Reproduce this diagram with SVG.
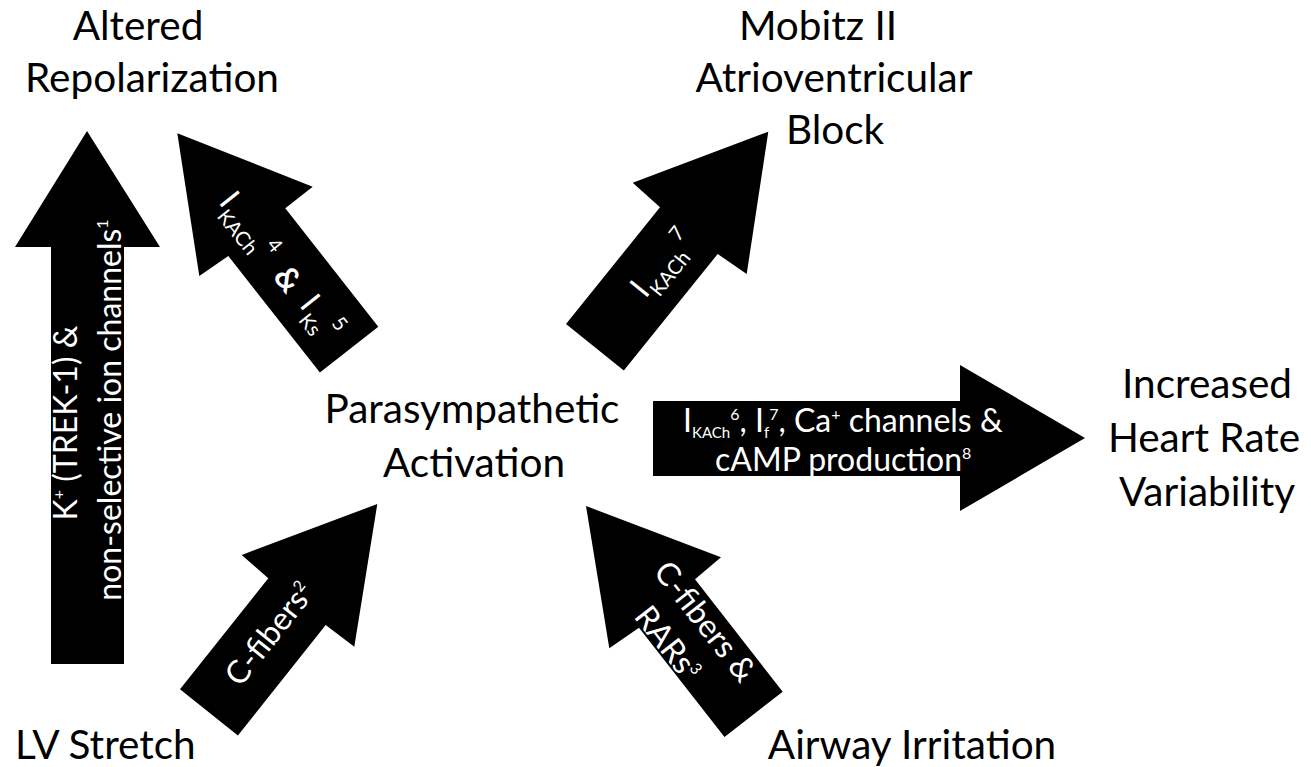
<svg xmlns="http://www.w3.org/2000/svg" width="1311" height="767" viewBox="0 0 1311 767">
<style>
.node{font-family:Lato,"Open Sans","Liberation Sans",sans-serif;font-size:40.5px;fill:#000;text-anchor:middle}
.node.start{text-anchor:start}
.arr{fill:#000;stroke:none}
.lab{font-family:Lato,"Open Sans","Liberation Sans",sans-serif;font-size:32px;fill:#fff}
.sub{font-size:20px}
.sm{font-size:16px}
.mid{text-anchor:middle}
</style>
<rect width="1311" height="767" fill="#fff"/>
<g id="connectors">
  <g id="arrow-lv-repol">
    <polygon class="arr" points="87,131 160,247 124,247 124,664 51,664 51,247 15,247"/>
    <text class="lab mid" transform="rotate(-90)" font-size="33"><tspan x="-423" y="77">K<tspan class="sm" dy="-13">+</tspan><tspan dy="13"> (TREK-1) &amp;</tspan></tspan></text>
    <text class="lab mid" transform="rotate(-90)" font-size="33"><tspan x="-410" y="121">non-selective ion channels<tspan class="sm" dy="-13">1</tspan></tspan></text>
  </g>
  <g id="arrow-para-repol">
    <polygon class="arr" points="177.3,133.3 312.7,186.7 285.3,208.3 378.3,326.7 319.9,372.6 228.3,256 199.3,276"/>
    <g transform="translate(256,231) rotate(51.5)">
      <text class="lab" x="-46" y="12">I</text>
      <text class="lab sub" x="-36" y="22">KACh</text>
      <text class="lab sub" x="17" y="1">4</text>
      <text class="lab" x="46" y="16" font-size="36" font-weight="bold">&amp;</text>
      <text class="lab" x="85" y="13">I</text>
      <text class="lab sub" x="96" y="23">Ks</text>
      <text class="lab sub" x="119" y="-1">5</text>
    </g>
  </g>
  <g id="arrow-para-mobitz">
    <polygon class="arr" points="768.3,131.7 746.7,274 717.7,254 623.8,370.5 566,324 660,207.3 632.7,182.7"/>
    <g transform="translate(689.7,228.3) rotate(-51.2)">
      <text class="lab" x="-83" y="10">I</text>
      <text class="lab sub" x="-73" y="20">KACh</text>
      <text class="lab sub" x="-18" y="0">7</text>
    </g>
  </g>
  <g id="arrow-lv-para">
    <polygon class="arr" points="377.3,504 354.3,646.7 325.7,625 237.9,735.4 180,689.3 268.3,578.3 241.7,555"/>
    <g transform="translate(298,600.9) rotate(-51.5)">
      <text class="lab" x="-104" y="9">C-fibers<tspan class="sm" dy="-12">2</tspan></text>
    </g>
  </g>
  <g id="arrow-airway-para">
    <polygon class="arr" points="586,506 721,557.3 695,579.3 782.7,691.7 724.5,737.1 639,627.7 609.3,648.3"/>
    <g transform="translate(665.2,602.8) rotate(51.9)">
      <text class="lab" x="-32" y="-9">C-fibers &amp;</text>
      <text class="lab" x="-9" y="34">RARs<tspan class="sm" dy="-12">3</tspan></text>
    </g>
  </g>
  <g id="arrow-para-hrv">
    <polygon class="arr" points="1085,438 960,511 960,476 653,476 653,401 960,401 960,365"/>
    <text class="lab" x="683" y="432" font-size="31">I<tspan style="font-size:15px" dy="6">KACh</tspan><tspan class="sm" dy="-18">6</tspan><tspan dy="12">, I</tspan><tspan style="font-size:15px" dy="6">f</tspan><tspan class="sm" dy="-18">7</tspan><tspan dy="12">, Ca</tspan><tspan class="sm" dy="-12">+</tspan><tspan dy="12"> channels &amp;</tspan></text>
    <text class="lab" x="715" y="471" font-size="31">cAMP production<tspan class="sm" dy="-12">8</tspan></text>
  </g>
</g>
<g id="node-repolarization">
  <text class="node" x="138" y="40">Altered</text>
  <text class="node" x="152" y="92">Repolarization</text>
</g>
<g id="node-mobitz">
  <text class="node" x="818" y="40">Mobitz II</text>
  <text class="node" x="834" y="92">Atrioventricular</text>
  <text class="node" x="835" y="144">Block</text>
</g>
<g id="node-parasympathetic">
  <text class="node" x="472" y="423">Parasympathetic</text>
  <text class="node" x="474" y="477">Activation</text>
</g>
<g id="node-hrv">
  <text class="node" x="1207" y="398">Increased</text>
  <text class="node" x="1204" y="452">Heart Rate</text>
  <text class="node" x="1207" y="506">Variability</text>
</g>
<g id="node-lv-stretch">
  <text class="node start" x="15" y="759">LV Stretch</text>
</g>
<g id="node-airway">
  <text class="node" x="912" y="759">Airway Irritation</text>
</g>
</svg>
